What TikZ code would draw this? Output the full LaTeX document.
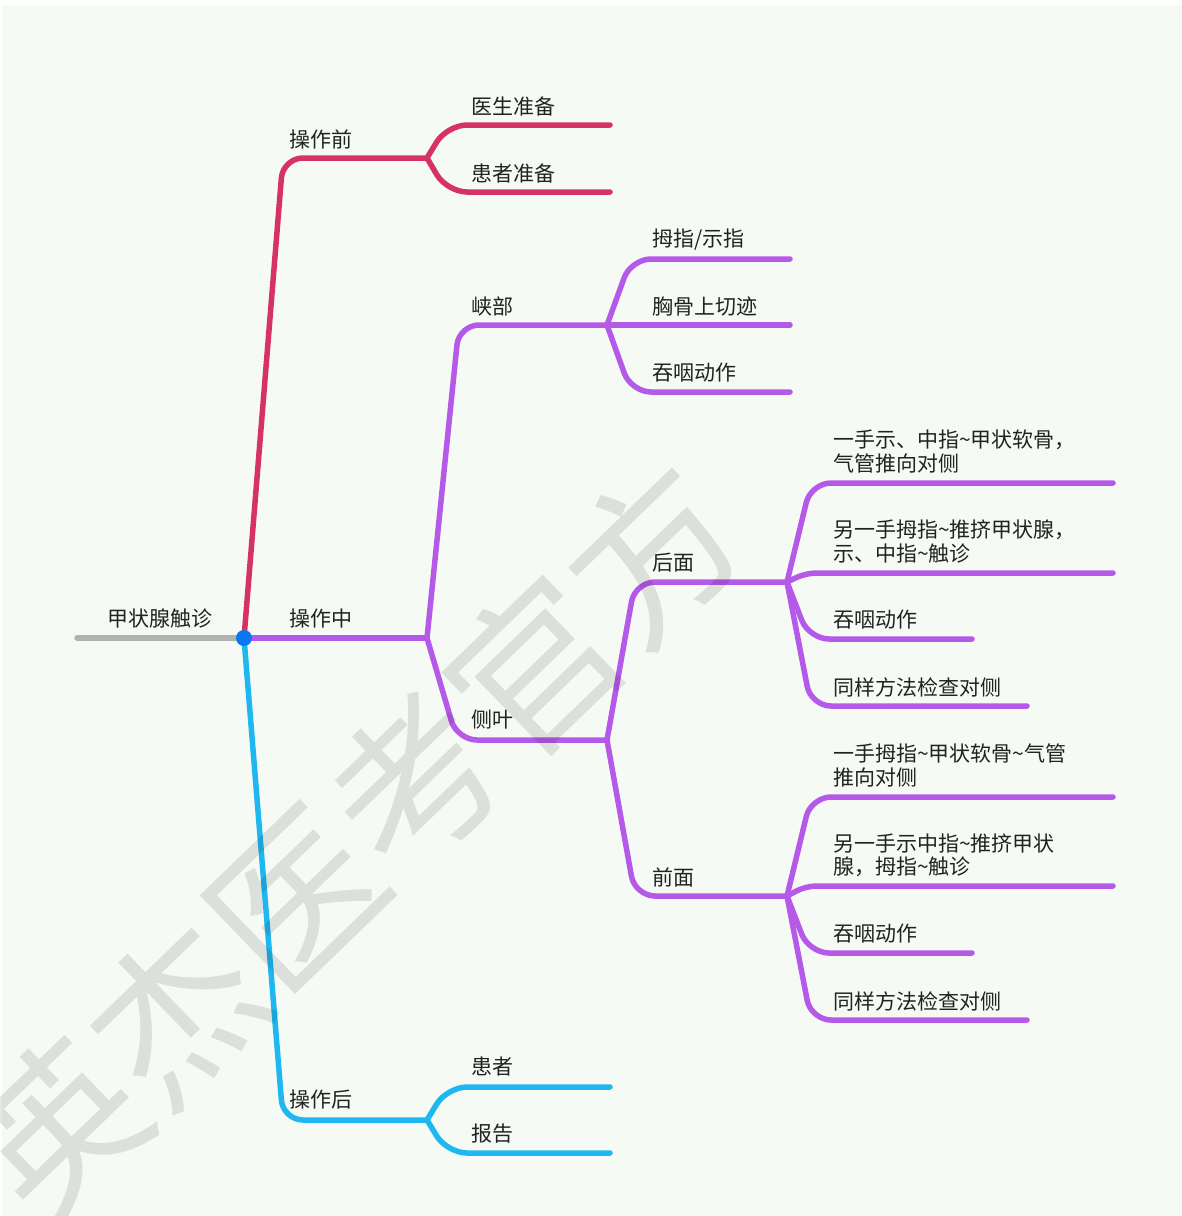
\documentclass[tikz,border=0pt]{standalone}
\usepackage{fontspec}
\newfontfamily\cjk{Noto Sans CJK SC}
\definecolor{bgc}{RGB}{246,250,244}
\definecolor{redb}{RGB}{214,51,100}
\definecolor{purb}{RGB}{181,90,232}
\definecolor{blub}{RGB}{30,183,240}
\definecolor{grayb}{RGB}{178,178,178}
\definecolor{dotc}{RGB}{10,120,240}
\definecolor{txt}{RGB}{34,34,34}
\tikzset{
  br/.style={line width=5.5pt, line cap=round, rounded corners=20pt},
  lbl/.style={anchor=west, inner sep=0pt, text=txt, align=left, font=\cjk\fontsize{21}{23.5}\selectfont},
}
\begin{document}
\begin{tikzpicture}[x=1pt,y=-1pt]
\useasboundingbox (0,0) rectangle (1182,1216);
\clip (0,0) rectangle (1182,1216);
\fill[white] (0,0) rectangle (1182,1216);
\fill[bgc] (2,5) rectangle (1182,1216);

% junction coordinates
\coordinate (rootL) at (77,638);
\coordinate (root) at (244,638);
\coordinate (pre) at (427,158);
\coordinate (mid) at (427,638);
\coordinate (post) at (427,1120);
\coordinate (isth) at (607,325);
\coordinate (lobe) at (607,740);
\coordinate (back) at (787,582);
\coordinate (front) at (787,896);
% leaf ends
\coordinate (e11) at (610,125);
\coordinate (e12) at (610,192);
\coordinate (e21) at (790,259);
\coordinate (e22) at (790,325);
\coordinate (e23) at (790,392);
\coordinate (f1) at (1113,483);
\coordinate (f2) at (1113,573);
\coordinate (f3) at (972,639);
\coordinate (f4) at (1027,706);
\coordinate (g1) at (1113,797);
\coordinate (g2) at (1113,886);
\coordinate (g3) at (972,953);
\coordinate (g4) at (1027,1020);
\coordinate (e31) at (610,1087);
\coordinate (e32) at (610,1153);

% root
\draw[grayb, line width=5.5pt, line cap=round] (rootL) -- (root);

% level 1
\draw[br, redb] (root) -- (283,158) -- (pre);
\draw[br, purb] (root) -- (mid);
\draw[br, blub] (root) -- (283,1120) -- (post);

% pre children
\draw[br, redb] (pre) -- (447,125) -- (e11);
\draw[br, redb] (pre) -- (447,192) -- (e12);
% mid children
\draw[br, purb] (mid) -- (459,325) -- (isth);
\draw[br, purb] (mid) -- (457,740) -- (lobe);
% isthmus children
\draw[br, purb] (isth) -- (631,259) -- (e21);
\draw[br, purb] (isth) -- (e22);
\draw[br, purb] (isth) -- (631,392) -- (e23);
% lobe children
\draw[br, purb] (lobe) -- (635,582) -- (back);
\draw[br, purb] (lobe) -- (635,896) -- (front);
% back children
\draw[br, purb] (back) -- (811,483) -- (f1);
\draw[br, purb, rounded corners=10pt] (back) -- (806,573) -- (f2);
\draw[br, purb] (back) -- (809,639) -- (f3);
\draw[br, purb] (back) -- (811,706) -- (f4);
% front children
\draw[br, purb] (front) -- (811,797) -- (g1);
\draw[br, purb, rounded corners=10pt] (front) -- (806,886) -- (g2);
\draw[br, purb] (front) -- (809,953) -- (g3);
\draw[br, purb] (front) -- (811,1020) -- (g4);
% post children
\draw[br, blub] (post) -- (447,1087) -- (e31);
\draw[br, blub] (post) -- (447,1153) -- (e32);

\fill[dotc] (root) circle (8pt);

% labels
\node[lbl, anchor=center] (tRoot) at (160,619) {甲状腺触诊};
\node[lbl] (tPre) at (289,139) {操作前};
\node[lbl] (tMid) at (289,619) {操作中};
\node[lbl] (tPost) at (289,1100) {操作后};
\node[lbl] (t11) at (471,106) {医生准备};
\node[lbl] (t12) at (471,173) {患者准备};
\node[lbl] (tIs) at (471,306) {峡部};
\node[lbl] (tLo) at (471,720) {侧叶};
\node[lbl] (t21) at (652,240) {拇指/示指};
\node[lbl] (t22) at (652,306) {胸骨上切迹};
\node[lbl] (t23) at (652,373) {吞咽动作};
\node[lbl] (tBa) at (652,563) {后面};
\node[lbl] (tFr) at (652,877) {前面};
\node[lbl] (u1) at (833,451.5) {一手示、中指\textasciitilde 甲状软骨，\\气管推向对侧};
\node[lbl] (u2) at (833,541.5) {另一手拇指\textasciitilde 推挤甲状腺，\\示、中指\textasciitilde 触诊};
\node[lbl] (u3) at (833,620) {吞咽动作};
\node[lbl] (u4) at (833,687) {同样方法检查对侧};
\node[lbl] (v1) at (833,765.5) {一手拇指\textasciitilde 甲状软骨\textasciitilde 气管\\推向对侧};
\node[lbl] (v2) at (833,855.5) {另一手示中指\textasciitilde 推挤甲状\\腺，拇指\textasciitilde 触诊};
\node[lbl] (v3) at (833,934) {吞咽动作};
\node[lbl] (v4) at (833,1001) {同样方法检查对侧};
\node[lbl] (t31) at (471,1067) {患者};
\node[lbl] (t32) at (471,1134) {报告};

% watermark
\node[rotate=44, opacity=0.1, text=black, inner sep=0pt, font=\cjk\fontsize{166}{166}\selectfont] (wm) at (355,840) {英杰医考官方};
\end{tikzpicture}
\end{document}
